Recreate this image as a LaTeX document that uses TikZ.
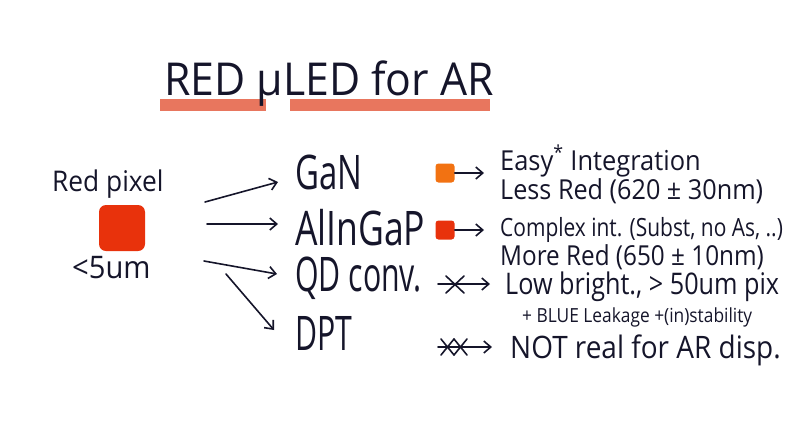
\documentclass[tikz,border=0pt]{standalone}
\usepackage{fontspec}
\setmainfont{Open Sans}
\usetikzlibrary{arrows.meta}
\definecolor{hl}{HTML}{E8765E}
\definecolor{pixred}{HTML}{E8320C}
\definecolor{ganor}{HTML}{F27212}
\definecolor{ink}{HTML}{15152A}
\newcommand{\hw}[3]{\scalebox{#1}[#2]{#3}}
\begin{document}
\begin{tikzpicture}[x=1bp,y=-1bp,
  ink/.style={draw=ink, line width=1.6bp, line cap=round},
  arr/.style={ink, -{Straight Barb[length=7bp,width=12bp,line width=1.6bp]}},
  lbl/.style={anchor=west, inner sep=0pt, text=ink},
  big/.style={font=\fontsize{33}{36}\selectfont},
  med/.style={font=\fontsize{23}{26}\selectfont},
  sml/.style={font=\fontsize{15}{17}\selectfont}
]
\useasboundingbox (0,0) rectangle (800,423);
% title highlight bars
\fill[hl] (160,99) rectangle (266,111);
\fill[hl] (290,99) rectangle (490,111);
\node[anchor=base west, inner sep=0pt, text=ink, font=\fontsize{37}{40}\selectfont] (title) at (164,95) {\hw{1.16}{1.23}{RED μLED for AR}};
% red pixel
\node[lbl, font=\fontsize{22}{24}\selectfont] (pxl) at (52,184) {\hw{1.2}{1.3}{Red pixel}};
\node[fill=pixred, rounded corners=7bp, minimum width=46bp, minimum height=46bp, inner sep=0pt] (px) at (122,228) {};
\node[lbl, font=\fontsize{24}{26}\selectfont] (size) at (72,268) {\hw{1.22}{1.3}{<5um}};
% methods
\node[lbl, big] (gan) at (295,172) {\hw{1.0}{1.45}{GaN}};
\node[lbl, big] (alingap) at (295,228) {\hw{1.08}{1.45}{AlInGaP}};
\node[lbl, big] (qd) at (295,278) {\hw{0.92}{1.45}{QD conv.}};
\node[lbl, big] (dpt) at (295,333) {\hw{0.92}{1.45}{DPT}};
\coordinate (s1) at (205,202);
\coordinate (s2) at (207,224);
\coordinate (s3) at (204,261);
\coordinate (s4) at (226,274);
\coordinate (g1) at (278,182);
\coordinate (g2) at (278,224);
\coordinate (g3) at (277,274);
\coordinate (g4) at (274,330);
\draw[arr] (s1) -- (g1);
\draw[arr] (s2) -- (g2);
\draw[arr] (s3) -- (g3);
\draw[arr] (s4) -- (g4);
% colour chips and short arrows
\node[fill=ganor, rounded corners=3bp, minimum size=19bp, inner sep=0pt] (sq1) at (445,173) {};
\node[fill=pixred, rounded corners=3bp, minimum size=19bp, inner sep=0pt] (sq2) at (445,230) {};
\coordinate (e1) at (484,173);
\coordinate (e2) at (484,230);
\draw[arr] (sq1.east) -- (e1);
\draw[arr] (sq2.east) -- (e2);
% crossed arrows
\coordinate (c3) at (438,284);
\coordinate (e3) at (490,284);
\draw[arr] (c3) -- (e3);
\draw[ink] (446,276) -- (464,293);
\draw[ink] (446,293) -- (464,276);
\coordinate (c4) at (438,347);
\coordinate (e4) at (492,347);
\draw[arr] (c4) -- (e4);
\draw[ink] (441,339) -- (454,355);
\draw[ink] (441,355) -- (454,339);
\draw[ink] (454,339) -- (467,355);
\draw[ink] (454,355) -- (467,339);
% right texts
\node[lbl, med] (t1) at (500,161) {\hw{1.11}{1.2}{Easy\textsuperscript{*} Integration}};
\node[lbl, med] (t2) at (500,191) {\hw{1.1}{1.2}{Less Red (620 ± 30nm)}};
\node[lbl, font=\fontsize{21}{24}\selectfont] (t3) at (500,230) {\hw{1.0}{1.2}{Complex int. (Subst, no As, ..)}};
\node[lbl, med] (t4) at (500,257) {\hw{1.06}{1.2}{More Red (650 ± 10nm)}};
\node[lbl, med] (t5) at (505,287) {\hw{1.1}{1.3}{Low bright., > 50um pix}};
\node[lbl, sml] (t6) at (522,317) {\hw{1.16}{1.3}{+ BLUE Leakage +(in)stability}};
\node[lbl, med] (t7) at (510,350) {\hw{1.22}{1.35}{NOT real for AR disp.}};
\end{tikzpicture}
\end{document}
